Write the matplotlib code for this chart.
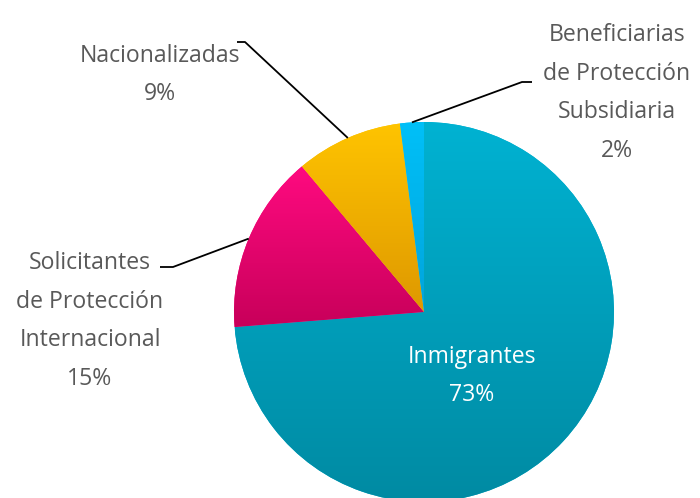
import matplotlib
matplotlib.use("Agg")
import matplotlib.pyplot as plt
import numpy as np
from matplotlib.colors import LinearSegmentedColormap

#---------------------------------------#
# DATA
#---------------------------------------#
labels = ["Inmigrantes", "Solicitantes\nde Protección\nInternacional",
          "Nacionalizadas", "Beneficiarias\nde Protección\nSubsidiaria"]
values = [73, 15, 9, 2]
pct_labels = ["73%", "15%", "9%", "2%"]
# gradient colours for each slice (top, bottom)
top_colors = ["#00B2D2", "#FF0A80", "#FFC400", "#00C0F8"]
bottom_colors = ["#008AA2", "#C8005A", "#DE9800", "#00A4DC"]
#---------------------------------------#

W, H = 700, 498
CENTER = (424, H - 312)
RADIUS = 190
TEXT_COLOR = "#595959"
FS = 16.6
LS = 1.83

plt.rcParams['font.family'] = ['Open Sans', 'DejaVu Sans']

fig = plt.figure(figsize=(W / 100, H / 100), dpi=100)
ax = fig.add_axes([0, 0, 1, 1])

wedges, _ = ax.pie(values, center=CENTER, radius=RADIUS, startangle=90,
                   counterclock=False, frame=True,
                   wedgeprops=dict(linewidth=0))
ax.set_xlim(0, W)
ax.set_ylim(0, H)
ax.set_aspect('equal')
ax.axis('off')

# fill each wedge with a vertical gradient clipped to its shape
grad = np.linspace(0, 1, 256).reshape(-1, 1)
for w, c_top, c_bot in zip(wedges, top_colors, bottom_colors):
    w.set_facecolor(c_top)
    verts = w.get_path().vertices
    x0, x1 = verts[:, 0].min(), verts[:, 0].max()
    y0, y1 = verts[:, 1].min(), verts[:, 1].max()
    cmap = LinearSegmentedColormap.from_list("g", [c_bot, c_top])
    im = ax.imshow(grad, cmap=cmap, extent=(x0, x1, y0, y1),
                   origin='lower', aspect='auto', zorder=w.get_zorder() + 0.1)
    im.set_clip_path(w)

ax.set_xlim(0, W)
ax.set_ylim(0, H)

# label text positions (layout) and leader line elbows
text_pos = [(472, H - 376), (90, H - 321), (160, H - 75), (617, H - 93)]
elbows = [None, [(173, H - 267), (160, H - 267)],
          [(245, H - 42), (237, H - 42)],
          [(522, H - 82), (532, H - 82)]]

for i, w in enumerate(wedges):
    mid = np.deg2rad((w.theta1 + w.theta2) / 2)
    color = TEXT_COLOR
    if i == 0:
        # label sits inside the big slice
        color = "white"
    else:
        ax_x = CENTER[0] + RADIUS * np.cos(mid)
        ax_y = CENTER[1] + RADIUS * np.sin(mid)
        xs = [ax_x] + [p[0] for p in elbows[i]]
        ys = [ax_y] + [p[1] for p in elbows[i]]
        ax.plot(xs, ys, color="black", linewidth=1.3, zorder=10,
                solid_capstyle='butt')
    ax.text(text_pos[i][0], text_pos[i][1], labels[i] + "\n" + pct_labels[i],
            color=color, fontsize=FS, ha='center', va='center',
            linespacing=LS, zorder=10)

fig.savefig("out.png", dpi=100)
